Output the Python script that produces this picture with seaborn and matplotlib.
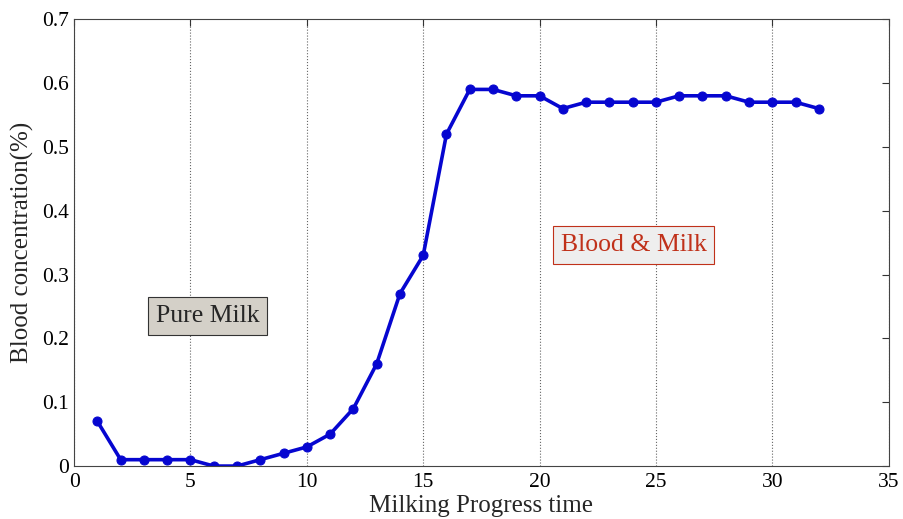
import pandas as pd
import seaborn as sns
import matplotlib.pyplot as plt

time = list(range(1, 33))
blood = [0.07, 0.01, 0.01, 0.01, 0.01, 0.00, 0.00, 0.01, 0.02, 0.03,
         0.05, 0.09, 0.16, 0.27, 0.33, 0.52, 0.59, 0.59, 0.58, 0.58,
         0.56, 0.57, 0.57, 0.57, 0.57, 0.58, 0.58, 0.58, 0.57, 0.57,
         0.57, 0.56]
x_ticks = [0, 5, 10, 15, 20, 25, 30, 35]
y_ticks = [0, 0.1, 0.2, 0.3, 0.4, 0.5, 0.6, 0.7]

df = pd.DataFrame({"time": time, "blood": blood})

sns.set_style("white")
plt.rcParams["font.family"] = ["Liberation Serif", "DejaVu Serif"]

fig = plt.figure(figsize=(9.04, 5.19), dpi=100)
ax = fig.add_axes([0.082, 0.102, 0.901, 0.861])

sns.lineplot(data=df, x="time", y="blood", ax=ax, color="#0606d0",
             linewidth=2.6, marker="o", markersize=6.5,
             markeredgecolor="#0606d0")

ax.set_xlim(0, 35)
ax.set_ylim(0, 0.7)
ax.set_xticks(x_ticks)
ax.set_yticks(y_ticks)
ax.set_xticklabels([str(t) for t in x_ticks])
ax.set_yticklabels(["0"] + [f"{t:.1f}" for t in y_ticks[1:]])
ax.tick_params(direction="in", top=True, right=True, labelsize=15.5,
               length=5, width=0.8, colors="#333333", labelcolor="black")
ax.tick_params(axis="x", pad=5)
ax.xaxis.grid(True, linestyle=":", color="#666666", linewidth=0.8)
ax.yaxis.grid(False)
for s in ax.spines.values():
    s.set_color("#444444")
    s.set_linewidth(0.8)

ax.set_xlabel("Milking Progress time", fontsize=18, labelpad=2)
ax.set_ylabel("Blood concentration(%)", fontsize=18, labelpad=6)

ax.text(5.75, 0.235, "Pure Milk", fontsize=18.5, ha="center", va="center",
        bbox=dict(boxstyle="square,pad=0.3", facecolor="#d4d0c8",
                  edgecolor="#333333", linewidth=0.8))
ax.text(24.05, 0.346, "Blood & Milk", fontsize=18.5, ha="center", va="center",
        color="#c0311a",
        bbox=dict(boxstyle="square,pad=0.3", facecolor="#eeeeee",
                  edgecolor="#c0311a", linewidth=0.8))

plt.savefig("out.png", dpi=100)
